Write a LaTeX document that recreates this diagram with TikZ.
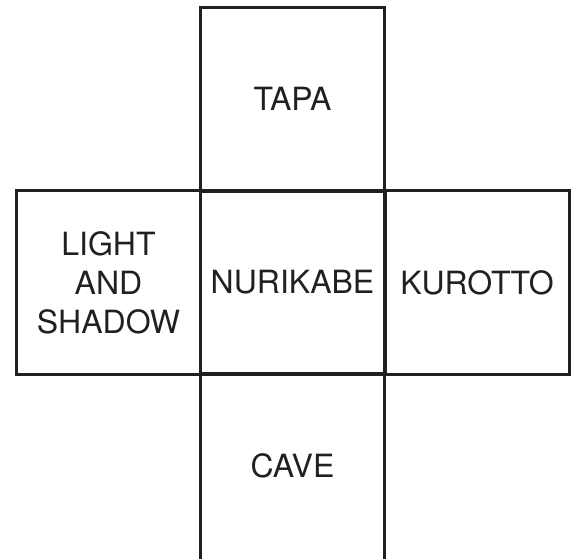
\documentclass[tikz,border=0pt]{standalone}
\usepackage{fontspec}
\setmainfont{TeX Gyre Heros}
\definecolor{ink}{HTML}{231F20}
\begin{document}
\begin{tikzpicture}[x=1pt,y=-1pt,
  label text/.style={text=ink,font=\fontsize{32}{39}\selectfont,align=center},
  cell/.style={draw=ink,line width=3pt,minimum width=184pt,minimum height=184pt,
    inner sep=0pt,label text}]
\useasboundingbox (0,0) rectangle (576,558);
\clip (0,0) rectangle (576,558);
\node[cell] (center) at (292.5,282.5) {NURIKABE};
\node[cell] (top) at (292.5,99) {TAPA};
\node[cell] (left) at (108.5,282.5) {LIGHT\\AND\\SHADOW};
\node[cell] (right) at (477,282.5) {KUROTTO};
\node[cell,minimum height=190pt] (bottom) at (292.5,468) {};
\node[label text] (cave) at (292.5,466) {CAVE};
\end{tikzpicture}
\end{document}
